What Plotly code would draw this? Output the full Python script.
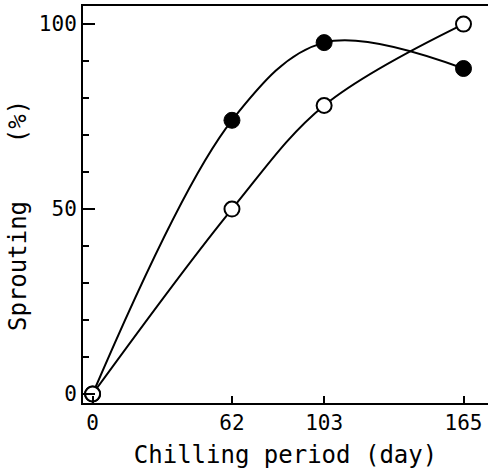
import plotly.graph_objects as go

days = [0, 62, 103, 165]
filled_pct = [0, 74, 95, 88]
open_pct = [0, 50, 78, 100]
x_ticks = [0, 62, 103, 165]
y_ticks = [0, 50, 100]

FONT = "DejaVu Sans Mono"

fig = go.Figure()
for ys in (filled_pct, open_pct):
    fig.add_trace(go.Scatter(x=days, y=ys, mode="lines",
                             line=dict(color="black", width=2, shape="spline", smoothing=1.0),
                             hoverinfo="skip", showlegend=False))
fig.add_trace(go.Scatter(x=days, y=filled_pct, mode="markers",
                         marker=dict(size=16, color="black", line=dict(color="black", width=1)),
                         showlegend=False))
fig.add_trace(go.Scatter(x=days, y=open_pct, mode="markers",
                         marker=dict(size=15, color="white", line=dict(color="black", width=2)),
                         showlegend=False))

fig.update_layout(
    width=488, height=471,
    margin=dict(l=83, r=0, t=6, b=68),
    paper_bgcolor="white", plot_bgcolor="white",
    font=dict(family=FONT, size=21, color="black"),
)
fig.update_xaxes(
    range=[-4.27, 175.9], tickmode="array", tickvals=x_ticks,
    ticktext=[str(v) for v in x_ticks],
    ticks="inside", ticklen=7, tickwidth=1.5, tickcolor="black",
    showline=True, linewidth=2, linecolor="black", mirror=True,
    showgrid=False, zeroline=False,
    tickfont=dict(family=FONT, size=21),
    title=dict(text="Chilling period (day)", font=dict(family=FONT, size=24), standoff=12),
)
fig.update_yaxes(
    range=[-2.43, 104.9], tickmode="array", tickvals=y_ticks,
    ticktext=[str(v) for v in y_ticks],
    ticks="inside", ticklen=12, tickwidth=1.5, tickcolor="black",
    minor=dict(ticks="inside", tickmode="linear", tick0=0, dtick=10, ticklen=6, tickwidth=1.5, tickcolor="black"),
    showline=True, linewidth=2, linecolor="black",
    showgrid=False, zeroline=False,
    tickfont=dict(family=FONT, size=21),
)
fig.add_annotation(
    text="Sprouting\u00a0\u00a0\u00a0\u00a0(%)", textangle=-90,
    xref="paper", yref="paper", x=0, y=0.471, xanchor="center", yanchor="middle",
    xshift=-65, showarrow=False, font=dict(family=FONT, size=24, color="black"),
)
fig.write_html("out.html")
